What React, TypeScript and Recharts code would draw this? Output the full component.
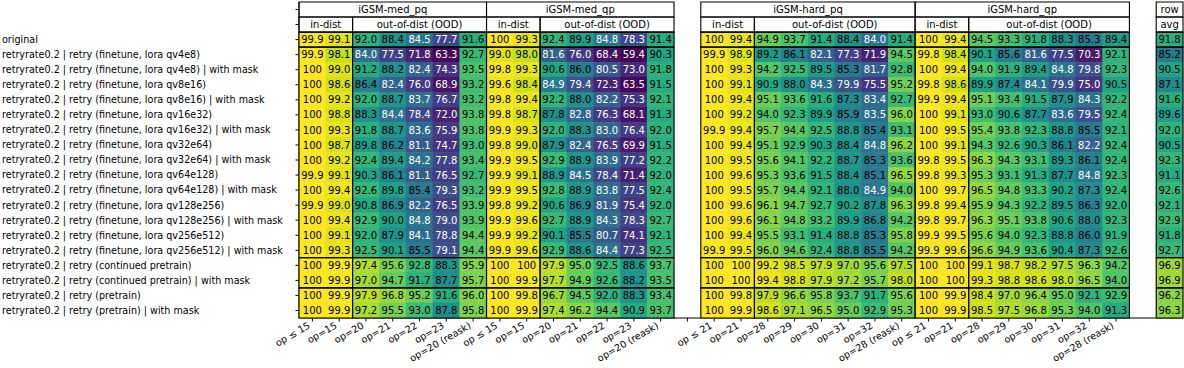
import React from "react";
import {
  ScatterChart,
  Scatter,
  XAxis,
  YAxis,
  ReferenceArea,
} from "recharts";

// row labels (top to bottom)
const rowLabels = [
  "original",
  "retryrate0.2 | retry (finetune, lora qv4e8)",
  "retryrate0.2 | retry (finetune, lora qv4e8) | with mask",
  "retryrate0.2 | retry (finetune, lora qv8e16)",
  "retryrate0.2 | retry (finetune, lora qv8e16) | with mask",
  "retryrate0.2 | retry (finetune, lora qv16e32)",
  "retryrate0.2 | retry (finetune, lora qv16e32) | with mask",
  "retryrate0.2 | retry (finetune, lora qv32e64)",
  "retryrate0.2 | retry (finetune, lora qv32e64) | with mask",
  "retryrate0.2 | retry (finetune, lora qv64e128)",
  "retryrate0.2 | retry (finetune, lora qv64e128) | with mask",
  "retryrate0.2 | retry (finetune, lora qv128e256)",
  "retryrate0.2 | retry (finetune, lora qv128e256) | with mask",
  "retryrate0.2 | retry (finetune, lora qv256e512)",
  "retryrate0.2 | retry (finetune, lora qv256e512) | with mask",
  "retryrate0.2 | retry (continued pretrain)",
  "retryrate0.2 | retry (continued pretrain) | with mask",
  "retryrate0.2 | retry (pretrain)",
  "retryrate0.2 | retry (pretrain) | with mask",
];

const medCols = ["op ≤ 15", "op=15", "op=20", "op=21", "op=22", "op=23", "op=20 (reask)"];
const hardCols = ["op ≤ 21", "op=21", "op=28", "op=29", "op=30", "op=31", "op=32", "op=28 (reask)"];

const medPq = [
  [99.9, 99.1, 92.0, 88.4, 84.5, 77.7, 91.6],
  [99.9, 98.1, 84.0, 77.5, 71.8, 63.3, 92.7],
  [100, 99.0, 91.2, 88.2, 82.4, 74.3, 93.5],
  [100, 98.6, 86.4, 82.4, 76.0, 68.9, 93.2],
  [100, 99.2, 92.0, 88.7, 83.7, 76.7, 93.2],
  [100, 98.8, 88.3, 84.4, 78.4, 72.0, 93.8],
  [100, 99.3, 91.8, 88.7, 83.6, 75.9, 93.8],
  [100, 98.7, 89.8, 86.2, 81.1, 74.7, 93.0],
  [100, 99.2, 92.4, 89.4, 84.2, 77.8, 93.4],
  [99.9, 99.1, 90.3, 86.1, 81.1, 76.5, 92.7],
  [100, 99.4, 92.6, 89.8, 85.4, 79.3, 93.2],
  [99.9, 99.0, 90.8, 86.9, 82.2, 76.5, 93.9],
  [100, 99.4, 92.9, 90.0, 84.8, 79.0, 93.9],
  [100, 99.1, 92.0, 87.9, 84.1, 78.8, 94.4],
  [100, 99.3, 92.5, 90.1, 85.5, 79.1, 94.4],
  [100, 99.9, 97.4, 95.6, 92.8, 88.3, 95.9],
  [100, 99.9, 97.0, 94.7, 91.7, 87.7, 95.7],
  [100, 99.9, 97.9, 96.8, 95.2, 91.6, 96.0],
  [100, 99.9, 97.2, 95.5, 93.0, 87.8, 95.8],
];

const medQp = [
  [100, 99.3, 92.4, 89.9, 84.8, 78.3, 91.4],
  [99.0, 98.0, 81.6, 76.0, 68.4, 59.4, 90.3],
  [99.8, 99.3, 90.6, 86.0, 80.5, 73.0, 91.8],
  [99.6, 98.4, 84.9, 79.4, 72.3, 63.5, 91.5],
  [99.8, 99.4, 92.2, 88.0, 82.2, 75.3, 92.1],
  [99.8, 98.7, 87.8, 82.8, 76.3, 68.1, 91.3],
  [99.9, 99.3, 92.0, 88.3, 83.0, 76.4, 92.0],
  [99.8, 99.0, 87.9, 82.4, 76.5, 69.9, 91.5],
  [99.9, 99.5, 92.9, 88.9, 83.9, 77.2, 92.2],
  [99.9, 99.1, 88.9, 84.5, 78.4, 71.4, 92.0],
  [99.9, 99.5, 92.8, 88.9, 83.8, 77.5, 92.4],
  [99.8, 99.2, 90.6, 86.9, 81.9, 75.4, 92.0],
  [99.9, 99.6, 92.7, 88.9, 84.3, 78.3, 92.7],
  [99.9, 99.2, 90.1, 85.5, 80.7, 74.1, 92.1],
  [99.9, 99.6, 92.9, 88.6, 84.4, 77.3, 92.5],
  [100, 100, 97.9, 95.0, 92.5, 88.6, 93.7],
  [100, 99.9, 97.7, 94.9, 92.6, 88.2, 93.5],
  [100, 99.8, 96.7, 94.5, 92.0, 88.3, 93.4],
  [100, 99.9, 97.4, 96.2, 94.4, 90.9, 93.7],
];

const hardPq = [
  [100, 99.4, 94.9, 93.7, 91.4, 88.4, 84.0, 91.4],
  [99.9, 98.9, 89.2, 86.1, 82.1, 77.3, 71.9, 94.5],
  [100, 99.3, 94.2, 92.5, 89.5, 85.3, 81.7, 92.8],
  [100, 99.1, 90.9, 88.0, 84.3, 79.9, 75.5, 95.2],
  [100, 99.4, 95.1, 93.6, 91.6, 87.3, 83.4, 92.7],
  [100, 99.2, 94.0, 92.3, 89.9, 85.9, 83.5, 96.0],
  [99.9, 99.4, 95.7, 94.4, 92.5, 88.8, 85.4, 93.1],
  [100, 99.4, 95.1, 92.9, 90.3, 88.4, 84.8, 96.2],
  [100, 99.5, 95.6, 94.1, 92.2, 88.7, 85.3, 93.6],
  [100, 99.6, 95.3, 93.6, 91.5, 88.4, 85.1, 96.5],
  [100, 99.5, 95.7, 94.4, 92.1, 88.0, 84.9, 94.0],
  [100, 99.6, 96.1, 94.7, 92.7, 90.2, 87.8, 96.3],
  [100, 99.6, 96.1, 94.8, 93.2, 89.9, 86.8, 94.2],
  [100, 99.4, 95.5, 93.1, 91.4, 88.8, 85.3, 95.8],
  [99.9, 99.5, 96.0, 94.6, 92.4, 88.8, 85.5, 94.2],
  [100, 100, 99.2, 98.5, 97.9, 97.0, 95.6, 97.5],
  [100, 100, 99.4, 98.8, 97.9, 97.2, 95.7, 98.0],
  [100, 99.8, 97.9, 96.6, 95.8, 93.7, 91.7, 95.6],
  [100, 99.9, 98.6, 97.1, 96.5, 95.0, 92.9, 95.3],
];

const hardQp = [
  [100, 99.4, 94.5, 93.3, 91.8, 88.3, 85.3, 89.4],
  [99.8, 98.4, 90.1, 85.6, 81.6, 77.5, 70.3, 92.1],
  [100, 99.4, 94.0, 91.9, 89.4, 84.8, 79.8, 92.3],
  [99.8, 98.6, 89.9, 87.4, 84.1, 79.9, 75.0, 90.5],
  [99.9, 99.4, 95.1, 93.4, 91.5, 87.9, 84.3, 92.2],
  [100, 99.1, 93.0, 90.6, 87.7, 83.6, 79.5, 92.4],
  [100, 99.5, 95.4, 93.8, 92.3, 88.8, 85.5, 92.1],
  [100, 99.1, 94.3, 92.6, 90.3, 86.1, 82.2, 92.4],
  [99.8, 99.5, 96.3, 94.3, 93.1, 89.3, 86.1, 92.4],
  [99.8, 99.3, 95.3, 93.1, 91.3, 87.7, 84.8, 92.3],
  [100, 99.7, 96.5, 94.8, 93.3, 90.2, 87.3, 92.4],
  [99.8, 99.4, 95.9, 94.3, 92.2, 89.5, 86.3, 92.0],
  [99.8, 99.7, 96.3, 95.1, 93.8, 90.6, 88.0, 92.3],
  [99.9, 99.5, 95.6, 94.0, 92.3, 88.8, 86.0, 91.9],
  [99.9, 99.6, 96.6, 94.9, 93.6, 90.4, 87.3, 92.6],
  [100, 100, 99.1, 98.7, 98.2, 97.5, 96.3, 94.2],
  [100, 100, 99.3, 98.8, 98.6, 98.0, 96.5, 94.0],
  [100, 99.9, 98.4, 97.0, 96.4, 95.0, 92.1, 92.9],
  [100, 99.9, 98.5, 97.5, 96.8, 95.3, 94.0, 91.3],
];

const rowAvg = [91.8, 85.2, 90.5, 87.1, 91.6, 89.6, 92.0, 90.5, 92.3, 91.1, 92.6, 92.1, 92.9, 91.8, 92.7, 96.9, 96.9, 96.2, 96.3];

const groups = [
  { name: "iGSM-med_pq", start: 0, cols: medCols, values: medPq },
  { name: "iGSM-med_qp", start: 7, cols: medCols, values: medQp },
  { name: "iGSM-hard_pq", start: 15, cols: hardCols, values: hardPq },
  { name: "iGSM-hard_qp", start: 23, cols: hardCols, values: hardQp },
];
const AVG_COL = 32;
const N_COLS = 33;

const W = 1184;
const H = 368;
const Y_AXIS_W = 299;
const MARGIN = { top: 2, right: 1, bottom: 0, left: 0 };
const X_AXIS_H = 50;
const PLOT_W = W - Y_AXIS_W - MARGIN.left - MARGIN.right;
const PLOT_H = H - MARGIN.top - MARGIN.bottom - X_AXIS_H;
const CELL_W = PLOT_W / N_COLS;
const CELL_H = PLOT_H / 21;

const VIRIDIS = [
  "#440154", "#48186a", "#472d7b", "#424086", "#3b528b", "#33638d",
  "#2c728e", "#26828e", "#21918c", "#1fa088", "#28ae80", "#3fbc73",
  "#5ec962", "#84d44b", "#addc30", "#d8e219", "#fde725",
];

function hexToRgb(h: string) {
  return [1, 3, 5].map((i) => parseInt(h.slice(i, i + 2), 16));
}

function cellColor(v: number) {
  const t = Math.pow(Math.min(1, Math.max(0, (v - 59.4) / 40.6)), 2);
  const pos = t * (VIRIDIS.length - 1);
  const i = Math.min(VIRIDIS.length - 2, Math.floor(pos));
  const f = pos - i;
  const a = hexToRgb(VIRIDIS[i]);
  const b = hexToRgb(VIRIDIS[i + 1]);
  const c = a.map((x, k) => Math.round(x + (b[k] - x) * f));
  return `rgb(${c[0]},${c[1]},${c[2]})`;
}

// column labels across the whole grid (gaps get an empty label)
const xLabels: string[] = new Array(N_COLS).fill("");
groups.forEach((g) => g.cols.forEach((c, i) => (xLabels[g.start + i] = c)));

const cells: { x: number; y: number; v: number }[] = [];
groups.forEach((g) =>
  g.values.forEach((row, r) => row.forEach((v, c) => cells.push({ x: g.start + c, y: r, v })))
);
rowAvg.forEach((v, r) => cells.push({ x: AVG_COL, y: r, v }));

const xTicks = Array.from({ length: 31 }, (_, i) => i);
const yTicks = Array.from({ length: 21 }, (_, i) => i - 2);

const bands = [
  [-0.5, 0.5],
  [0.5, 14.5],
  [14.5, 16.5],
  [16.5, 18.5],
];

const renderCell = (props: any) => {
  const { cx, cy, payload } = props;
  const v = payload.v as number;
  return (
    <g>
      <rect
        x={cx - CELL_W / 2 - 0.3}
        y={cy - CELL_H / 2 - 0.3}
        width={CELL_W + 0.6}
        height={CELL_H + 0.6}
        fill={cellColor(v)}
      />
      <text
        x={cx}
        y={cy}
        dy="0.36em"
        textAnchor="middle"
        fontSize={10}
        fill={v < 85 ? "#fff" : "#000"}
      >
        {v === 100 ? "100" : v.toFixed(1)}
      </text>
    </g>
  );
};

const XTick = (props: any) => {
  const { x, y, payload } = props;
  const label = xLabels[payload.value] || "";
  return (
    <g transform={`translate(${x - 1.5},${y + 6})`}>
      <text x={0} y={0} textAnchor="end" fontSize={9.6} fill="#000" transform="rotate(-30)">
        {label}
      </text>
    </g>
  );
};

const YTick = (props: any) => {
  const { y, payload } = props;
  const label = payload.value >= 0 ? rowLabels[payload.value] : "";
  return (
    <text x={2} y={y} dy="0.35em" textAnchor="start" fontSize={9.6} fill="#000">
      {label}
    </text>
  );
};

const boxProps = {
  fill: "none",
  fillOpacity: 0,
  stroke: "#000",
  strokeWidth: 1.1,
  zIndex: 1000,
};

const labelOf = (value: string) => ({ value, position: "center" as const, fill: "#000", fontSize: 10 });

export default function App() {
  const areas: React.ReactNode[] = [];
  groups.forEach((g) => {
    const end = g.start + g.cols.length - 1;
    const split = g.start + 1.5;
    areas.push(
      <ReferenceArea key={g.name + "h1"} x1={g.start - 0.5} x2={end + 0.5} y1={-2.5} y2={-1.5} {...boxProps} label={labelOf(g.name)} />,
      <ReferenceArea key={g.name + "h2a"} x1={g.start - 0.5} x2={split} y1={-1.5} y2={-0.5} {...boxProps} label={labelOf("in-dist")} />,
      <ReferenceArea key={g.name + "h2b"} x1={split} x2={end + 0.5} y1={-1.5} y2={-0.5} {...boxProps} label={labelOf("out-of-dist (OOD)")} />
    );
    bands.forEach(([a, b], i) => {
      areas.push(
        <ReferenceArea key={g.name + "ba" + i} x1={g.start - 0.5} x2={split} y1={a} y2={b} {...boxProps} />,
        <ReferenceArea key={g.name + "bb" + i} x1={split} x2={end + 0.5} y1={a} y2={b} {...boxProps} />
      );
    });
  });
  areas.push(
    <ReferenceArea key="avg1" x1={AVG_COL - 0.5} x2={AVG_COL + 0.5} y1={-2.5} y2={-1.5} {...boxProps} label={labelOf("row")} />,
    <ReferenceArea key="avg2" x1={AVG_COL - 0.5} x2={AVG_COL + 0.5} y1={-1.5} y2={-0.5} {...boxProps} label={labelOf("avg")} />
  );
  bands.forEach(([a, b], i) =>
    areas.push(
      <ReferenceArea key={"avgb" + i} x1={AVG_COL - 0.5} x2={AVG_COL + 0.5} y1={a} y2={b} {...boxProps} />
    )
  );

  return (
    <div
      style={{
        position: "absolute",
        left: 0,
        top: 0,
        width: W,
        height: H,
        background: "#fff",
        fontFamily: '"DejaVu Sans", sans-serif',
      }}
    >
      <ScatterChart width={W} height={H} margin={MARGIN}>
        <XAxis
          type="number"
          dataKey="x"
          domain={[-0.5, N_COLS - 0.5]}
          ticks={xTicks}
          interval={0}
          height={X_AXIS_H}
          tickSize={3.5}
          tickMargin={0}
          axisLine={{ stroke: "#000" }}
          tickLine={{ stroke: "#000" }}
          tick={<XTick />}
        />
        <YAxis
          type="number"
          dataKey="y"
          domain={[-2.5, 18.5]}
          reversed
          ticks={yTicks}
          interval={0}
          width={Y_AXIS_W}
          tickSize={3.5}
          axisLine={{ stroke: "#000" }}
          tickLine={{ stroke: "#000" }}
          tick={<YTick />}
        />
        <Scatter data={cells} isAnimationActive={false} shape={renderCell} />
        {areas}
      </ScatterChart>
    </div>
  );
}
